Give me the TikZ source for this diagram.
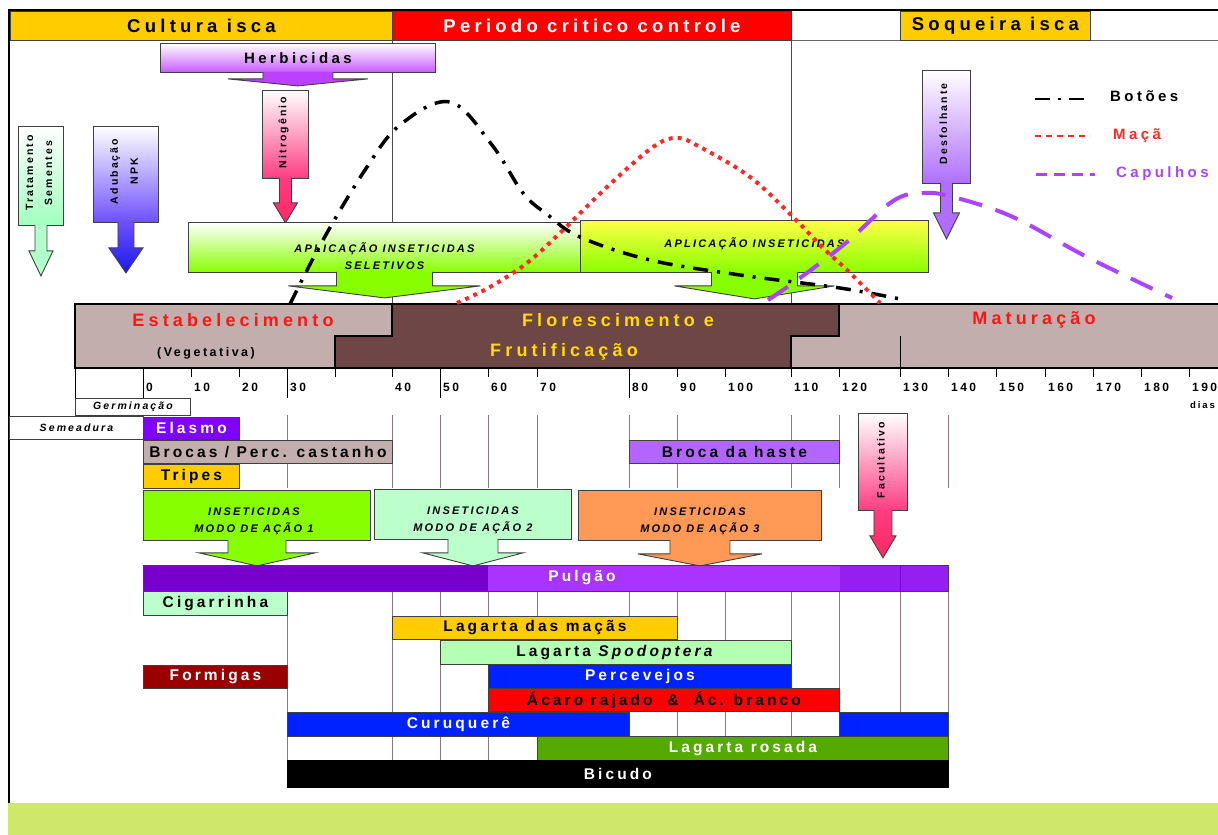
\documentclass[tikz,border=0pt]{standalone}
\usepackage{fontspec}
\setmainfont{Liberation Sans}
\newfontfamily\spfont[LetterSpace=20]{Liberation Sans}
\newfontfamily\wdfont[LetterSpace=23]{Liberation Sans}
\usetikzlibrary{calc}

\definecolor{gold}{RGB}{255,204,0}
\definecolor{hdred}{RGB}{255,0,0}
\definecolor{estc}{RGB}{194,174,172}
\definecolor{florc}{RGB}{110,70,70}
\definecolor{phred}{RGB}{255,20,20}
\definecolor{phyel}{RGB}{255,221,0}
\definecolor{herbc}{RGB}{200,90,255}
\definecolor{herbd}{RGB}{185,65,255}
\definecolor{nitc}{RGB}{255,60,130}
\definecolor{nitd}{RGB}{255,40,100}
\definecolor{tratc}{RGB}{160,255,190}
\definecolor{adubc}{RGB}{110,80,255}
\definecolor{adubd}{RGB}{25,25,235}
\definecolor{desfc}{RGB}{175,110,255}
\definecolor{aplg}{RGB}{136,255,0}
\definecolor{aplyel}{RGB}{255,255,70}
\definecolor{macred}{RGB}{255,40,40}
\definecolor{capviol}{RGB}{170,68,255}
\definecolor{purp}{RGB}{127,0,255}
\definecolor{hastec}{RGB}{178,102,255}
\definecolor{ins2c}{RGB}{187,255,204}
\definecolor{ins3c}{RGB}{255,153,85}
\definecolor{pulL}{RGB}{119,0,204}
\definecolor{pulR}{RGB}{170,51,255}
\definecolor{pulE}{RGB}{150,30,240}
\definecolor{spodc}{RGB}{179,255,179}
\definecolor{formc}{RGB}{153,0,0}
\definecolor{percc}{RGB}{0,34,255}
\definecolor{rosc}{RGB}{85,170,0}
\definecolor{glinec}{RGB}{140,120,120}
\definecolor{bandc}{RGB}{208,232,106}

\newcommand{\txsize}[1]{\fontsize{#1}{#1}\selectfont}

% block arrow hanging under a box: [style]{node}{shaft half}{shaft len}{head half}{head len}
\newcommand{\downarr}[6][]{%
  \path[arr,#1] ($(#2.south)+(-#3,-1)$) -- ($(#2.south)+(-#3,#4)$) -- ($(#2.south)+(-#5,#4)$)
    -- ($(#2.south)+(0,{#4+#6})$) -- ($(#2.south)+(#5,#4)$) -- ($(#2.south)+(#3,#4)$)
    -- ($(#2.south)+(#3,-1)$);}

\begin{document}
\begin{tikzpicture}[x=1pt, y=-1pt,
  cell/.style={draw=black!75, line width=0.9pt, inner sep=0pt, anchor=north west},
  wh/.style 2 args={minimum width=#1pt, minimum height=#2pt},
  pbar/.style={cell, font=\spfont\bfseries\txsize{15.5}},
  hdr/.style={cell, font=\wdfont\bfseries\txsize{18.5}},
  phase/.style={font=\wdfont\bfseries\txsize{18}, inner sep=0pt},
  itxt/.style={font=\spfont\bfseries\itshape\fontsize{11}{17}\selectfont, align=center, inner sep=0pt},
  rtxt/.style={font=\spfont\bfseries\fontsize{10.5}{19}\selectfont, align=center, inner sep=0pt, rotate=90},
  arr/.style={draw=black!75, line width=0.9pt},
  gline/.style={draw=glinec, line width=0.9pt},
  tk/.style={line width=1pt},
  tklbl/.style={font=\spfont\bfseries\txsize{12}, anchor=west, inner sep=0pt},
  lgd/.style={font=\wdfont\bfseries\txsize{15}, anchor=west, inner sep=0pt},
  botoes/.style={line width=3.5pt, dash pattern=on 15pt off 9pt on 3pt off 9pt},
  maca/.style={draw=macred, line width=4pt, dash pattern=on 4pt off 5pt},
  capulhos/.style={draw=capviol, line width=4pt, dash pattern=on 24pt off 14pt}]

\useasboundingbox (0,0) rectangle (1218,835);
\fill[white] (0,0) rectangle (1218,835);
\fill[bandc] (8,803) rectangle (1218,835);

% frame and header
\draw[black!60, line width=1pt] (9,40) -- (1218,40);
\draw[black!70, line width=0.9pt] (392,40) -- (392,304) (791,11) -- (791,304);
\node[hdr, fill=gold, wh={382}{29}] (cultura) at (10,11) {Cultura isca};
\node[hdr, fill=hdred, text=white, wh={399}{29}] (critico) at (392,11) {Periodo critico controle};
\node[hdr, fill=gold, wh={190}{29}] (soqueira) at (900,11) {Soqueira isca};
\draw[line width=2pt] (9,803) -- (9,10) -- (1218,10);

% inputs
\node[cell, wh={275}{29}, top color=white, bottom color=herbc,
  font=\wdfont\bfseries\txsize{15}] (herb) at (160,43) {Herbicidas};
\downarr[fill=herbd]{herb}{35}{6}{70}{7}
\node[cell, wh={46}{88}, top color=white, bottom color=nitc] (nitro) at (262,90) {};
\node[rtxt] (nitroT) at ($(nitro.center)+(-2,-2)$) {Nitrogênio};
\downarr[top color=nitc, bottom color=nitd]{nitro}{6}{24}{12}{20}
\node[cell, wh={45}{99}, top color=white, bottom color=tratc] (trat) at (18,126) {};
\node[rtxt] (tratT) at ($(trat.center)+(-2,-3)$) {Tratamento\\Sementes};
\downarr[fill=tratc!80!white]{trat}{6}{25}{12}{25}
\node[cell, wh={65}{96}, top color=white, bottom color=adubc] (adub) at (93,126) {};
\node[rtxt, font=\spfont\bfseries\fontsize{10.5}{20}\selectfont] (adubT) at ($(adub.center)+(-2,-3)$) {Adubação\\NPK};
\downarr[top color=adubc, bottom color=adubd]{adub}{8}{25}{17}{25}
\node[cell, wh={48}{113}, top color=white, bottom color=desfc] (desf) at (922,70) {};
\node[rtxt] (desfT) at ($(desf.center)+(-3,-3)$) {Desfolhante};
\downarr[fill=desfc]{desf}{6}{29}{13}{26}

% insecticide application boxes
\node[cell, wh={392}{50}, top color=white, bottom color=aplg] (apl1) at (188,222) {};
\node[itxt] (apl1T) at ($(apl1.center)+(0,9)$) {APLICAÇÃO INSETICIDAS\\SELETIVOS};
\downarr[fill=aplg]{apl1}{48}{13}{96}{12}
\node[cell, wh={348}{52}, top color=aplyel, bottom color=aplg] (apl2) at (580,220) {};
\node[itxt] (apl2T) at ($(apl2.center)+(0,-3)$) {APLICAÇÃO INSETICIDAS};
\downarr[fill=aplg]{apl2}{43}{13}{80}{13}

% phase band
\fill[estc] (75,304) -- (392,304) -- (392,336) -- (335,336) -- (335,368) -- (75,368) -- cycle;
\fill[florc] (392,304) -- (839,304) -- (839,336) -- (791,336) -- (791,368) -- (335,368) -- (335,336) -- (392,336) -- cycle;
\fill[estc] (839,304) -- (1218,304) -- (1218,368) -- (791,368) -- (791,336) -- (839,336) -- cycle;
\draw[line width=2pt] (1218,304) -- (75,304) -- (75,368) -- (1218,368);
\draw[line width=1.6pt] (392,304) -- (392,336) -- (335,336) -- (335,368)
  (839,304) -- (839,336) -- (791,336) -- (791,368);
\draw[line width=0.8pt] (900,336) -- (900,368);
\node[phase, text=phred] (estab) at (233,320) {Estabelecimento};
\node[font=\spfont\bfseries\txsize{12.5}, inner sep=0pt] (veg) at (206,353) {(Vegetativa)};
\node[phase, text=phyel] (flor) at (618,320) {Florescimento e};
\node[phase, text=phyel] (frut) at (564,352) {Frutificação};
\node[phase, text=phred] (matur) at (1034,320) {Maturação};

% curves
\draw[botoes] plot[smooth, tension=0.6] coordinates {(290,304) (323,240) (365,170) (400,125)
  (450,102) (492,145) (523,193) (548,215) (580,237) (650,260) (740,275) (840,288) (905,300)};
\draw[maca] plot[smooth, tension=0.6] coordinates {(457,303) (490,287) (527,263) (560,233)
  (607,187) (653,147) (677,138) (700,147) (750,177) (793,217) (823,248) (847,270) (880,303)};
\draw[capulhos] plot[smooth, tension=0.6] coordinates {(768,300) (800,278) (847,242) (893,201)
  (923,193) (953,197) (1013,217) (1087,257) (1172,298)};

% legend
\node[lgd] (lgbot) at (1110,96) {Botões};
\node[lgd, text=macred] (lgmac) at (1113,136) {Maçã};
\node[lgd, text=capviol] (lgcap) at (1116,174) {Capulhos};
\draw[line width=2.5pt, dash pattern=on 15pt off 8pt on 3pt off 8pt] ($(lgbot.west)+(-75,3)$) -- ($(lgbot.west)+(-25,3)$);
\draw[macred, line width=1.5pt, dash pattern=on 6pt off 5pt] ($(lgmac.west)+(-78,0)$) -- ($(lgmac.west)+(-23,0)$);
\draw[capviol, line width=3pt, dash pattern=on 11pt off 7pt] ($(lgcap.west)+(-80,0)$) -- ($(lgcap.west)+(-21,0)$);

% time axis
\draw[tk] (75,368) -- (75,398);
\foreach \x/\d in {143/0,191/10,239/20,287/30,392/40,440/50,488/60,537/70,629/80,677/90,
  725/100,791/110,839/120,900/130,948/140,996/150,1045/160,1093/170,1141/180,1189/190} {
  \draw[tk] (\x,368) -- (\x,377);
  \node[tklbl] (tk\d) at (\x+3,387) {\d};
}
\foreach \x in {143,287,440,629} \draw[tk] (\x,377) -- (\x,398);
\draw[tk] (335,368) -- (335,377);
\node[font=\spfont\bfseries\txsize{9.5}, anchor=west, inner sep=0pt] (dias) at (1190,405) {dias};
\node[cell, wh={115}{17}, font=\spfont\bfseries\itshape\txsize{10.5}] (germ) at (75,398) {Germinação};
\node[cell, wh={134}{23}, font=\spfont\bfseries\itshape\txsize{10.5}] (semea) at (9,416) {Semeadura};

% grid of the pest chart
\foreach \x in {287,392,440,488,537,629,677,791,839,948} \draw[gline] (\x,415) -- (\x,488);
\foreach \x in {287,392,440,488,537,629,677,725,791,839,900,948} \draw[gline] (\x,591) -- (\x,787);

% pests
\node[pbar, fill=purp, text=white, wh={96}{22}] (elasmo) at (143,417) {Elasmo};
\node[pbar, fill=estc, wh={249}{23}] (brocas) at (143,440) {Brocas / Perc. castanho};
\node[pbar, fill=hastec, wh={210}{23}] (haste) at (629,440) {Broca da haste};
\node[pbar, fill=gold, wh={96}{24}] (tripes) at (143,464) {Tripes};

\node[cell, wh={49}{97}, top color=white, bottom color=nitc] (facult) at (858,413) {};
\node[rtxt] (facultT) at ($(facult.center)+(-2,-2)$) {Facultativo};
\downarr[top color=nitc, bottom color=nitd]{facult}{9}{25}{13}{22}

\node[cell, wh={227}{50}, fill=aplg] (ins1) at (143,490) {};
\node[itxt] (ins1T) at ($(ins1.center)+(-3,6)$) {INSETICIDAS\\MODO DE AÇÃO 1};
\downarr[fill=aplg]{ins1}{29}{12}{58}{13}
\node[cell, wh={197}{50}, fill=ins2c] (ins2) at (374,489) {};
\node[itxt] (ins2T) at ($(ins2.center)+(0,6)$) {INSETICIDAS\\MODO DE AÇÃO 2};
\downarr[fill=ins2c]{ins2}{25}{13}{50}{13}
\node[cell, wh={243}{50}, fill=ins3c] (ins3) at (578,490) {};
\node[itxt] (ins3T) at ($(ins3.center)+(0,6)$) {INSETICIDAS\\MODO DE AÇÃO 3};
\downarr[fill=ins3c]{ins3}{30}{13}{62}{12}

\node[pbar, fill=pulR, wh={805}{26},
  path picture={
    \fill[pulL] (path picture bounding box.south west) rectangle ($(path picture bounding box.north west)+(345pt,0)$);
    \fill[pulE] ($(path picture bounding box.south east)+(-108pt,0)$) rectangle (path picture bounding box.north east);
    \draw[pulL, line width=0.8pt] ($(path picture bounding box.south east)+(-48pt,0)$) -- ($(path picture bounding box.north east)+(-48pt,0)$);}] (pulgao) at (143,565) {};
\node[font=\spfont\bfseries\txsize{15.5}, text=white, inner sep=0pt] (pulgaoT) at (582,578) {Pulgão};
\node[pbar, fill=ins2c, wh={144}{24}] (cigar) at (143,591) {Cigarrinha};
\node[pbar, fill=gold, wh={285}{23}] (lagmac) at (392,616) {Lagarta das maçãs};
\node[pbar, fill=spodc, wh={351}{24}] (spodo) at (440,640) {Lagarta \textit{Spodoptera}};
\node[pbar, fill=formc, text=white, wh={144}{23}] (formi) at (143,665) {Formigas};
\node[pbar, fill=percc, text=white, wh={303}{24}] (perce) at (488,664) {Percevejos};
\node[pbar, fill=hdred, wh={351}{23}] (acaro) at (488,688) {Ácaro rajado \ \& \ Ác. branco};
\node[pbar, fill=percc, text=white, wh={342}{24}] (curu) at (287,712) {Curuquerê};
\node[pbar, fill=percc, wh={109}{24}] (curu2) at (839,712) {};
\node[pbar, fill=rosc, text=white, wh={411}{24}] (rosada) at (537,736) {Lagarta rosada};
\node[pbar, draw=black, fill=black, text=white, wh={661}{27}] (bicudo) at (287,760) {Bicudo};

\end{tikzpicture}
\end{document}
